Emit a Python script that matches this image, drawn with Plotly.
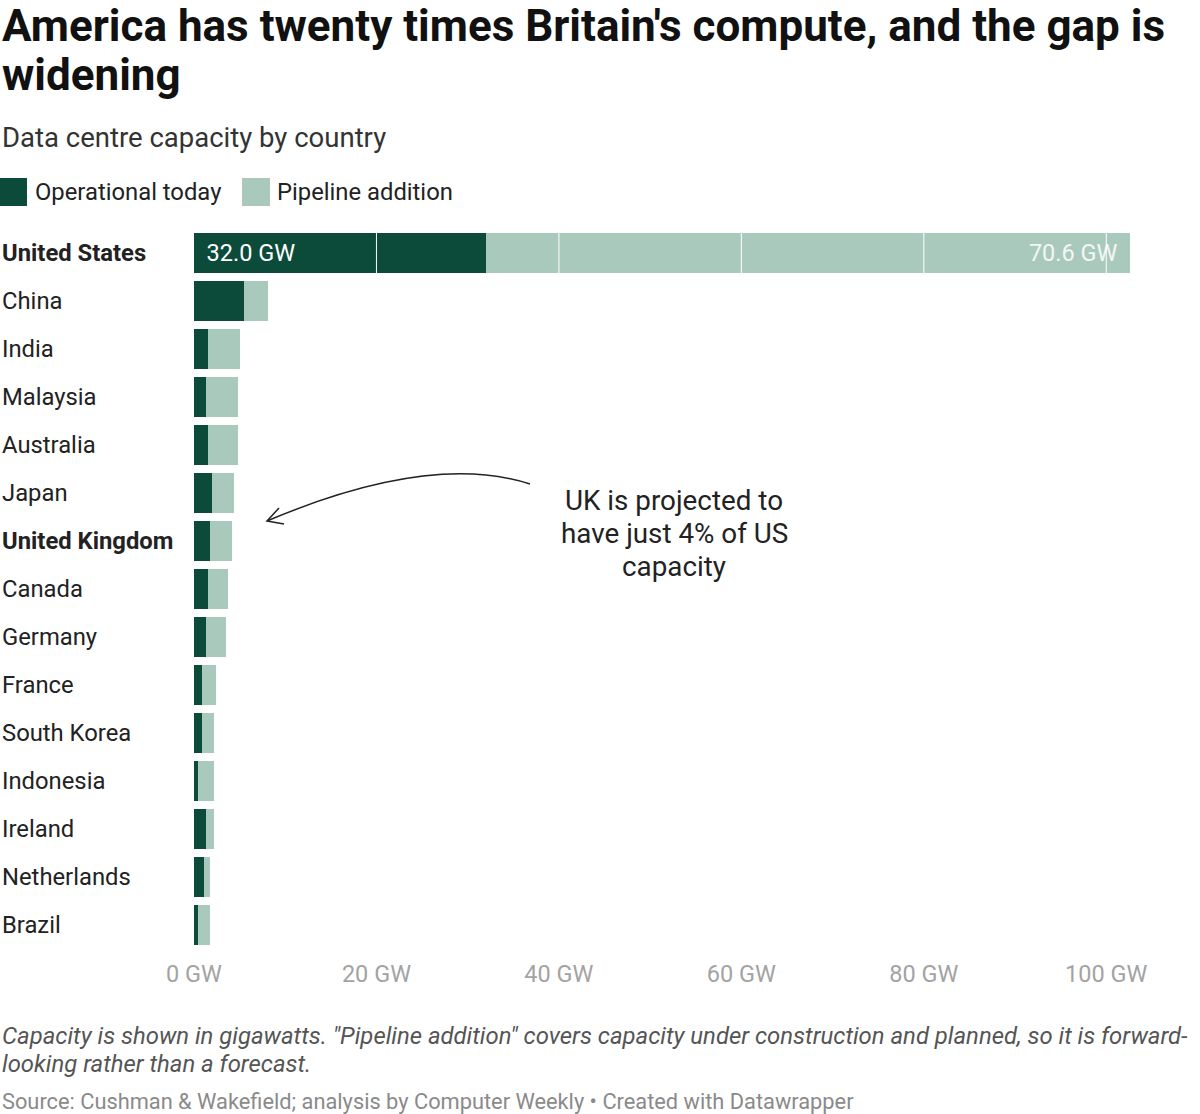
import plotly.graph_objects as go

countries = ["United States", "China", "India", "Malaysia", "Australia", "Japan",
             "United Kingdom", "Canada", "Germany", "France", "South Korea",
             "Indonesia", "Ireland", "Netherlands", "Brazil"]
operational = [32.0, 5.5, 1.5, 1.3, 1.5, 2.0, 1.8, 1.5, 1.3, 0.9, 0.9, 0.4, 1.3, 1.1, 0.4]
pipeline = [70.6, 2.6, 3.5, 3.5, 3.3, 2.4, 2.4, 2.2, 2.2, 1.5, 1.3, 1.8, 0.9, 0.7, 1.4]
bold_countries = ["United States", "United Kingdom"]
tick_vals = [0, 20, 40, 60, 80, 100]
tick_text = ["0 GW", "20 GW", "40 GW", "60 GW", "80 GW", "100 GW"]

DARK = "#0c4b39"
LIGHT = "#aac9bd"
FONT = "Roboto"
PAD = "\u2009\u2009"

W, H = 1200, 1114
L, R, T, B = 194, 70, 229, 165
PW, PH = W - L - R, H - T - B


def px(x):
    return (x - L) / PW


def py(y):
    return (H - B - y) / PH


op_text = [f"{PAD}{v:.1f} GW" if c == "United States" else "" for c, v in zip(countries, operational)]
pl_text = [f"{v:.1f} GW{PAD}" if c == "United States" else "" for c, v in zip(countries, pipeline)]

fig = go.Figure()
fig.add_trace(go.Bar(
    y=countries, x=operational, orientation="h", name="Operational today",
    marker=dict(color=DARK, line=dict(width=0)),
    text=op_text, textposition="inside", insidetextanchor="start",
    textfont=dict(color="white", size=23.5, family=FONT), hoverinfo="x+y",
))
fig.add_trace(go.Bar(
    y=countries, x=pipeline, orientation="h", name="Pipeline addition",
    marker=dict(color=LIGHT, line=dict(width=0)),
    text=pl_text, textposition="inside", insidetextanchor="end",
    textfont=dict(color="#f2f7f5", size=23.5, family=FONT), hoverinfo="x+y",
))

fig.update_layout(
    width=W, height=H, barmode="stack", bargap=0.17,
    margin=dict(l=L, r=R, t=T, b=B),
    plot_bgcolor="white", paper_bgcolor="white", showlegend=False,
    font=dict(family=FONT, color="#222"),
    uniformtext=dict(mode=False),
)
fig.update_xaxes(range=[0, sum([operational[0], pipeline[0]])], tickvals=tick_vals, ticktext=tick_text,
                 showgrid=False, zeroline=False, showline=False, ticks="",
                 tickfont=dict(size=23.5, color="#a3a3a3", family=FONT), ticklabelstandoff=8)
fig.update_yaxes(autorange="reversed", showticklabels=False, showgrid=False, zeroline=False)

shapes = []
# white gridlines over bars
for v in tick_vals[1:]:
    shapes.append(dict(type="line", xref="x", yref="paper", x0=v, x1=v, y0=0, y1=1,
                       line=dict(color="white", width=1), layer="above"))

# legend swatches
shapes.append(dict(type="rect", xref="paper", yref="paper", x0=px(0), x1=px(27), y0=py(206), y1=py(178),
                   fillcolor=DARK, line=dict(width=0)))
shapes.append(dict(type="rect", xref="paper", yref="paper", x0=px(242), x1=px(270), y0=py(206), y1=py(178),
                   fillcolor=LIGHT, line=dict(width=0)))

# curved arrow
p0, c, p2 = (530, 484), (430, 452), (267, 521)
path = f"M {px(p0[0])},{py(p0[1])} Q {px(c[0])},{py(c[1])} {px(p2[0])},{py(p2[1])}"
shapes.append(dict(type="path", xref="paper", yref="paper", path=path,
                   line=dict(color="#222", width=1.5)))
head = (f"M {px(279)},{py(508)} L {px(267)},{py(521)} L {px(284)},{py(524)}")
shapes.append(dict(type="path", xref="paper", yref="paper", path=head,
                   line=dict(color="#222", width=1.5)))

fig.update_layout(shapes=shapes)

ann = []


def text(x, y, s, size, color="#222", anchor="left", yanchor="middle", **kw):
    ann.append(dict(xref="paper", yref="paper", x=px(x), y=py(y), text=s, showarrow=False,
                    xanchor=anchor, yanchor=yanchor, align=anchor,
                    font=dict(size=size, color=color, family=FONT), **kw))


text(0, 26, "<b>America has twenty times Britain's compute, and the gap is</b>", 44, "#111")
text(0, 75, "<b>widening</b>", 44, "#111")
text(0, 137, "Data centre capacity by country", 27.5, "#333")
text(33, 192, "Operational today", 23.8, "#222")
text(275, 192, "Pipeline addition", 23.8, "#222")
text(674, 500, "UK is projected to", 27.8, "#222", anchor="center")
text(674, 533, "have just 4% of US", 27.8, "#222", anchor="center")
text(674, 566, "capacity", 27.8, "#222", anchor="center")
text(0, 1036, "<i>Capacity is shown in gigawatts. \"Pipeline addition\" covers capacity under construction and planned, so it is forward-</i>", 23.9, "#555")
text(0, 1064, "<i>looking rather than a forecast.</i>", 23.9, "#555")
text(0, 1101, "Source: Cushman &amp; Wakefield; analysis by Computer Weekly • Created with Datawrapper", 21.8, "#8a8a8a")

for cn in countries:
    label = f"<b>{cn}</b>" if cn in bold_countries else cn
    ann.append(dict(xref="paper", yref="y", x=0, y=cn, xshift=-194, text=label, showarrow=False,
                    xanchor="left", yanchor="middle", font=dict(size=23.8, color="#222", family=FONT)))

fig.update_layout(annotations=ann)
fig.write_html("out.html", config={"displayModeBar": False},
               post_script="document.body.style.margin='0';")
